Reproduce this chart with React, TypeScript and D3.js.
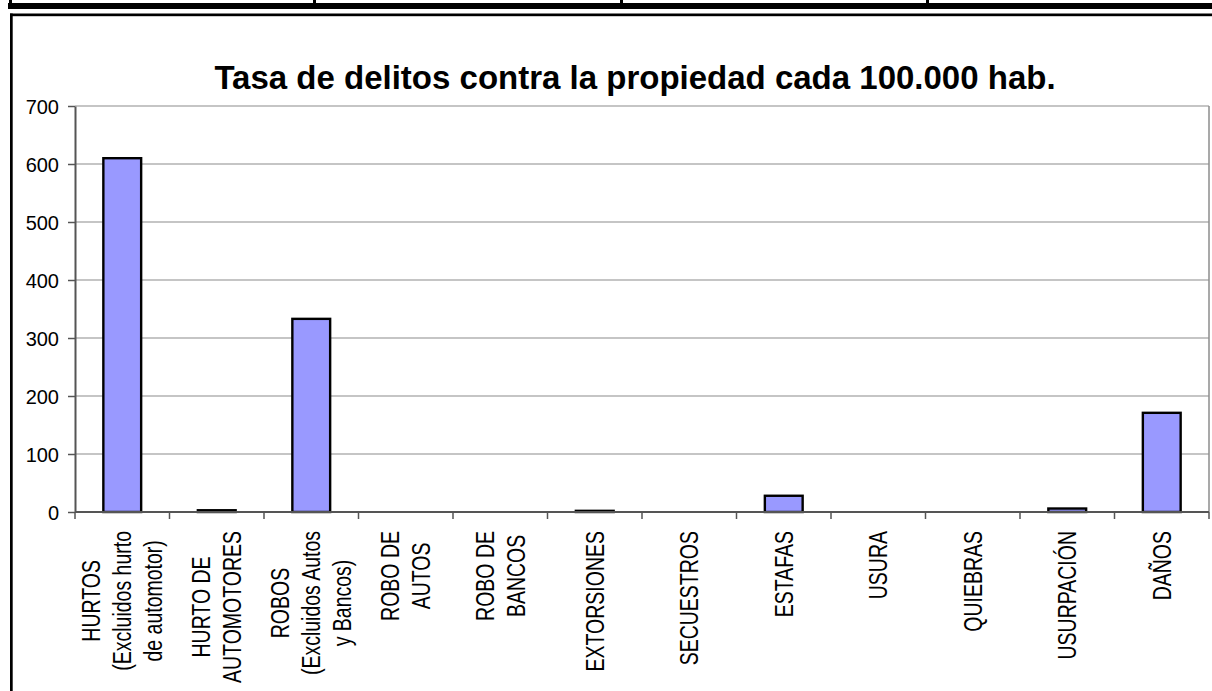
import { useEffect, useRef } from 'react';
import * as d3 from 'd3';

const title = 'Tasa de delitos contra la propiedad cada 100.000 hab.';

const categories: string[][] = [
	['HURTOS', '(Excluidos hurto', 'de automotor)'],
	['HURTO DE', 'AUTOMOTORES'],
	['ROBOS', '(Excluidos Autos', 'y Bancos)'],
	['ROBO DE', 'AUTOS'],
	['ROBO DE', 'BANCOS'],
	['EXTORSIONES'],
	['SECUESTROS'],
	['ESTAFAS'],
	['USURA'],
	['QUIEBRAS'],
	['USURPACIÓN'],
	['DAÑOS'],
];

const values = [610, 3, 333, 0, 0, 2, 0, 28, 0, 0, 6, 171];

const yTicks = [0, 100, 200, 300, 400, 500, 600, 700];

const FONT = '"Liberation Sans", Arial, sans-serif';

export default function App() {
	const svgRef = useRef<SVGSVGElement | null>(null);
	const width = 1212;
	const height = 691;

	useEffect(() => {
		if (!svgRef.current) return;
		const svg = d3.select(svgRef.current);
		svg.selectAll('*').remove();

		const plot = { left: 75, right: 1209, top: 106, bottom: 512 };

		// top table band and frame of the chart
		svg.append('rect').attr('x', 8).attr('y', 3).attr('width', width - 8).attr('height', 6).attr('fill', '#000');
		[9, 313, 620, 926].forEach((sx) => {
			svg.append('rect').attr('x', sx).attr('y', 0).attr('width', 3).attr('height', 4).attr('fill', '#000');
		});
		svg.append('rect').attr('x', 10).attr('y', 13.5).attr('width', width).attr('height', 2.7).attr('fill', '#000');
		svg.append('rect').attr('x', 10).attr('y', 13.5).attr('width', 2.7).attr('height', height).attr('fill', '#000');

		const x = d3
			.scaleBand<number>()
			.domain(d3.range(categories.length))
			.range([plot.left, plot.right])
			.paddingInner(0.6)
			.paddingOuter(0.3);

		// band boundaries for ticks (Excel style: tick between categories)
		const step = (plot.right - plot.left) / categories.length;

		const y = d3.scaleLinear().domain([0, 700]).range([plot.bottom, plot.top]);

		// gridlines
		svg
			.append('g')
			.selectAll('line')
			.data(yTicks.filter((t) => t > 0))
			.join('line')
			.attr('x1', plot.left)
			.attr('x2', plot.right)
			.attr('y1', (d) => y(d))
			.attr('y2', (d) => y(d))
			.attr('stroke', '#8c8c8c')
			.attr('stroke-width', 1.2);

		// right border of plot area
		svg
			.append('line')
			.attr('x1', plot.right)
			.attr('x2', plot.right)
			.attr('y1', plot.top)
			.attr('y2', plot.bottom)
			.attr('stroke', '#8c8c8c')
			.attr('stroke-width', 1.5);

		// bars
		svg
			.append('g')
			.selectAll('rect')
			.data(values)
			.join('rect')
			.attr('x', (_, i) => x(i)!)
			.attr('y', (d) => y(d))
			.attr('width', x.bandwidth())
			.attr('height', (d) => y(0) - y(d))
			.attr('fill', '#9999ff')
			.attr('stroke', (d) => (d > 0 ? '#000' : 'none'))
			.attr('stroke-width', 2.4);

		// y axis
		const yAxis = svg
			.append('g')
			.attr('transform', `translate(${plot.left},0)`)
			.call(d3.axisLeft(y).tickValues(yTicks).tickSize(7).tickPadding(9).tickSizeOuter(0));
		yAxis.attr('font-size', null).attr('font-family', null);
		yAxis.select('.domain').attr('stroke', '#555').attr('stroke-width', 2);
		yAxis.selectAll('.tick line').attr('stroke', '#555').attr('stroke-width', 1.5);
		yAxis
			.selectAll('.tick text')
			.style('font-family', FONT)
			.style('font-size', '20px')
			.attr('fill', '#000')
			.attr('dy', '0.35em');

		// x axis line and ticks
		const xg = svg.append('g');
		xg.append('line')
			.attr('x1', plot.left)
			.attr('x2', plot.right)
			.attr('y1', plot.bottom)
			.attr('y2', plot.bottom)
			.attr('stroke', '#555')
			.attr('stroke-width', 2);
		xg.selectAll('line.tk')
			.data(d3.range(categories.length + 1))
			.join('line')
			.attr('class', 'tk')
			.attr('x1', (d) => plot.left + d * step)
			.attr('x2', (d) => plot.left + d * step)
			.attr('y1', plot.bottom)
			.attr('y2', plot.bottom + 7)
			.attr('stroke', '#555')
			.attr('stroke-width', 1.5);

		// category labels, rotated, lines centered, block top at the axis
		const labelTop = 531;
		const lineGap = 31;
		categories.forEach((lines, i) => {
			const cx = x(i)! + x.bandwidth() / 2;
			const g = xg
				.append('g')
				.attr('transform', `translate(${cx},${labelTop}) rotate(-90) scale(0.78,1)`);
			const texts = g
				.selectAll('text')
				.data(lines)
				.join('text')
				.style('font-family', FONT)
				.style('font-size', '25px')
				.attr('fill', '#000')
				.attr('text-anchor', 'middle')
				.attr('dy', '0.36em')
				.attr('y', (_, j) => (j - (lines.length - 1) / 2) * lineGap)
				.text((d) => d);
			let maxW = 0;
			texts.each(function () {
				maxW = Math.max(maxW, (this as SVGTextElement).getComputedTextLength());
			});
			texts.attr('x', -maxW / 2);
		});

		// title
		svg
			.append('text')
			.attr('x', 635)
			.attr('y', 89)
			.attr('text-anchor', 'middle')
			.style('font-family', FONT)
			.style('font-weight', 'bold')
			.style('font-size', '33px')
			.attr('fill', '#000')
			.text(title);
	}, []);

	return (
		<svg
			ref={svgRef}
			width={width}
			height={height}
			style={{ position: 'absolute', left: 0, top: 0, background: '#fff' }}
		/>
	);
}
